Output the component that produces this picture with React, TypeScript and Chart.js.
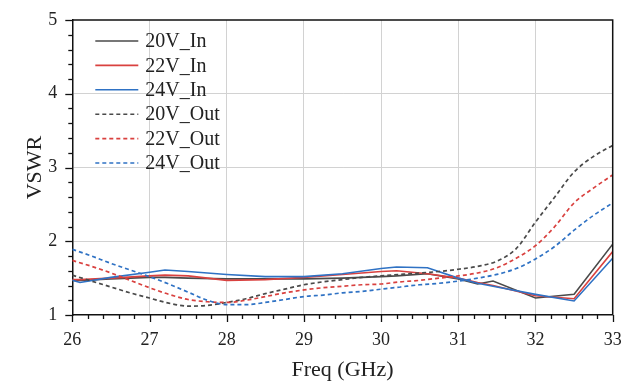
import React, { useEffect, useRef } from 'react';
import { Chart, registerables } from 'chart.js';

Chart.register(...registerables);

// Input (solid) curves
const freqIn = [26, 26.1, 26.5, 27, 27.2, 27.5, 28, 28.5, 29, 29.5, 30, 30.2, 30.6, 31, 31.25, 31.45, 32, 32.5, 33];
const in20V = [1.47, 1.47, 1.49, 1.51, 1.51, 1.50, 1.49, 1.49, 1.49, 1.50, 1.52, 1.53, 1.56, 1.49, 1.42, 1.46, 1.23, 1.28, 1.96];
const in22V = [1.48, 1.48, 1.50, 1.53, 1.54, 1.53, 1.47, 1.48, 1.51, 1.55, 1.59, 1.60, 1.56, 1.50, 1.44, 1.40, 1.26, 1.22, 1.86];
const in24V = [1.47, 1.44, 1.51, 1.58, 1.61, 1.59, 1.55, 1.52, 1.52, 1.56, 1.63, 1.65, 1.64, 1.50, 1.43, 1.39, 1.28, 1.19, 1.77];

// Output (dashed) curves
const freqOut = [26, 26.25, 26.5, 26.75, 27, 27.25, 27.5, 27.75, 28, 28.25, 28.5, 28.75, 29, 29.25, 29.5, 29.75, 30, 30.25, 30.5, 30.75, 31, 31.25, 31.5, 31.75, 32, 32.25, 32.5, 32.75, 33];
const out20V = [1.54, 1.46, 1.38, 1.30, 1.23, 1.16, 1.12, 1.13, 1.17, 1.22, 1.29, 1.35, 1.41, 1.45, 1.48, 1.51, 1.53, 1.55, 1.57, 1.59, 1.62, 1.66, 1.73, 1.90, 2.26, 2.60, 2.94, 3.15, 3.30];
const out22V = [1.74, 1.66, 1.57, 1.47, 1.37, 1.28, 1.21, 1.18, 1.17, 1.20, 1.25, 1.30, 1.34, 1.37, 1.39, 1.41, 1.42, 1.45, 1.47, 1.50, 1.53, 1.57, 1.64, 1.77, 1.94, 2.20, 2.52, 2.72, 2.90];
const out24V = [1.89, 1.80, 1.70, 1.61, 1.52, 1.42, 1.31, 1.20, 1.14, 1.14, 1.17, 1.21, 1.25, 1.27, 1.30, 1.32, 1.35, 1.38, 1.41, 1.43, 1.46, 1.50, 1.55, 1.63, 1.76, 1.93, 2.15, 2.35, 2.52];

const seriesLabels = ['20V_In', '22V_In', '24V_In', '20V_Out', '22V_Out', '24V_Out'];
const seriesColors = ['#4a4a4a', '#d9413f', '#2f72c4', '#4a4a4a', '#d9413f', '#2f72c4'];

const xMin = 26, xMax = 33, xMinorStep = 0.2;
const yMin = 1, yMax = 5, yMinorStep = 0.2;
const xAxisTitle = 'Freq (GHz)';
const yAxisTitle = 'VSWR';

const FONT = "'Liberation Serif', 'Times New Roman', serif";
const DASH = [4, 3];

const isInt = (v: number) => Math.abs(v - Math.round(v)) < 1e-6;

const framePlugin = {
  id: 'frameTicksLegend',
  afterDraw(chart: any) {
    const { ctx, chartArea } = chart;
    const xs = chart.scales.x;
    const ys = chart.scales.y;
    const { left, right, top, bottom } = chartArea;
    ctx.save();
    ctx.strokeStyle = '#111';
    ctx.lineWidth = 1.5;
    // top and right borders
    ctx.beginPath();
    ctx.moveTo(left, top);
    ctx.lineTo(right, top);
    ctx.lineTo(right, bottom);
    ctx.stroke();
    // x ticks (outside, below)
    ctx.lineWidth = 1.3;
    const nx = Math.round((xMax - xMin) / xMinorStep);
    for (let i = 0; i <= nx; i++) {
      const v = xMin + i * xMinorStep;
      const px = Math.round(xs.getPixelForValue(v)) + 0.5;
      const len = isInt(v) ? 7 : 4;
      ctx.beginPath();
      ctx.moveTo(px, bottom);
      ctx.lineTo(px, bottom + len);
      ctx.stroke();
    }
    const ny = Math.round((yMax - yMin) / yMinorStep);
    for (let i = 0; i <= ny; i++) {
      const v = yMin + i * yMinorStep;
      const py = Math.round(ys.getPixelForValue(v)) + 0.5;
      const len = isInt(v) ? 7 : 4;
      ctx.beginPath();
      ctx.moveTo(left, py);
      ctx.lineTo(left - len, py);
      ctx.stroke();
    }
    // legend
    ctx.font = `20px ${FONT}`;
    ctx.textBaseline = 'middle';
    ctx.textAlign = 'left';
    chart.data.datasets.forEach((ds: any, i: number) => {
      const y = top + 21 + i * 24.4;
      const x0 = left + 23;
      ctx.strokeStyle = ds.borderColor;
      ctx.lineWidth = 1.6;
      ctx.setLineDash(ds.borderDash || []);
      ctx.beginPath();
      ctx.moveTo(x0, y);
      ctx.lineTo(x0 + 43, y);
      ctx.stroke();
      ctx.setLineDash([]);
      ctx.fillStyle = '#222';
      ctx.fillText(ds.label, x0 + 50, y + 1);
    });
    ctx.restore();
  },
};

export default function App() {
  const ref = useRef<HTMLCanvasElement | null>(null);
  useEffect(() => {
    document.body.style.margin = '0';
    if (!ref.current) return;
    const mk = (xsArr: number[], ys: number[]) => xsArr.map((x, i) => ({ x, y: ys[i] }));
    const allSeries = [
      mk(freqIn, in20V), mk(freqIn, in22V), mk(freqIn, in24V),
      mk(freqOut, out20V), mk(freqOut, out22V), mk(freqOut, out24V),
    ];
    const datasets = allSeries.map((data, i) => {
      const dashed = i >= 3;
      return {
        label: seriesLabels[i],
        data,
        borderColor: seriesColors[i],
        backgroundColor: seriesColors[i],
        borderWidth: dashed ? 1.7 : 1.6,
        borderDash: dashed ? DASH : [],
        pointRadius: 0,
        fill: false,
        tension: dashed ? 0.4 : 0,
        cubicInterpolationMode: dashed ? 'monotone' : 'default',
        order: 6 - i,
      };
    });
    const chart = new Chart(ref.current, {
      type: 'line',
      data: { datasets } as any,
      options: {
        animation: false,
        responsive: false,
        layout: { padding: { top: 20, right: 16.3, bottom: 0, left: 0 } },
        plugins: { legend: { display: false }, tooltip: { enabled: false } },
        scales: {
          x: {
            type: 'linear',
            min: xMin,
            max: xMax,
            ticks: {
              stepSize: 1,
              padding: 14,
              color: '#222',
              font: { family: FONT, size: 18 },
              callback: (v: any) => String(v),
            },
            grid: {
              drawTicks: false,
              color: (c: any) => (c.tick && isInt(c.tick.value) && c.tick.value > xMin && c.tick.value < xMax ? '#d2d2d2' : 'rgba(0,0,0,0)'),
              lineWidth: 1,
            },
            border: { display: true, color: '#111', width: 1.5 },
            title: {
              display: true,
              text: xAxisTitle,
              color: '#222',
              font: { family: FONT, size: 22 },
              padding: { top: 0, bottom: 0 },
            },
            afterFit: (s: any) => {
              s.height = 68;
              s.paddingLeft = 0;
              s.paddingRight = 0;
            },
          },
          y: {
            type: 'linear',
            min: yMin,
            max: yMax,
            ticks: {
              stepSize: 1,
              padding: 15,
              color: '#222',
              font: { family: FONT, size: 18 },
              callback: (v: any) => String(v),
            },
            grid: {
              drawTicks: false,
              color: (c: any) => (c.tick && isInt(c.tick.value) && c.tick.value > yMin && c.tick.value < yMax ? '#d2d2d2' : 'rgba(0,0,0,0)'),
              lineWidth: 1,
            },
            border: { display: true, color: '#111', width: 1.5 },
            title: {
              display: true,
              text: yAxisTitle,
              color: '#222',
              font: { family: FONT, size: 22 },
              padding: { top: 22, bottom: 0 },
            },
            afterFit: (s: any) => {
              s.width = 72.3;
              s.paddingTop = 0;
              s.paddingBottom = 0;
            },
          },
        },
      },
      plugins: [framePlugin],
    });
    return () => chart.destroy();
  }, []);
  return (
    <div style={{ width: 629, height: 383 }}>
      <canvas ref={ref} width={629} height={383} />
    </div>
  );
}
